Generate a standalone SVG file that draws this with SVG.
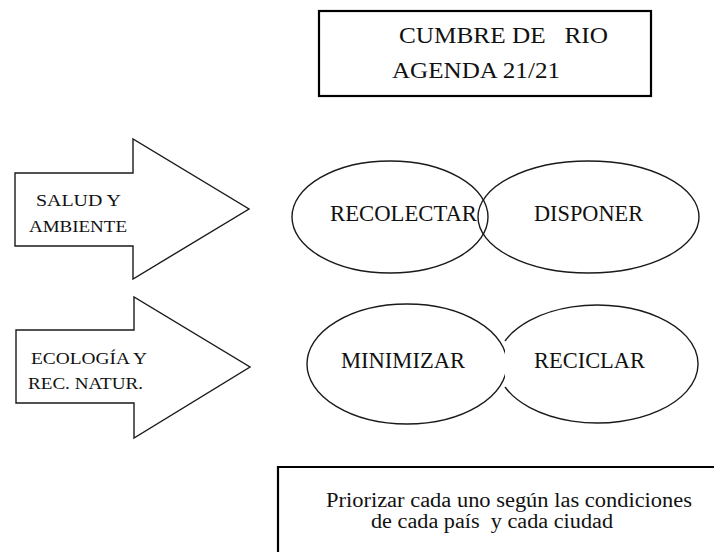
<svg xmlns="http://www.w3.org/2000/svg" width="714" height="552" viewBox="0 0 714 552">
<style>
.box{fill:#fff;stroke:#000;stroke-width:2.2}
.shape{fill:#fff;stroke:#1a1a1a;stroke-width:1.4}
.lbl{fill:#111;font-family:"Liberation Serif","Times New Roman",serif}
.t23{font-size:23px}
.t17{font-size:17px}
.t20{font-size:20px}
</style>
<rect width="714" height="552" fill="#fff"/>
<g id="title">
<rect class="box" x="319" y="11" width="332" height="85"/>
<text class="lbl t23" x="399" y="43" textLength="209" lengthAdjust="spacingAndGlyphs" xml:space="preserve">CUMBRE DE   RIO</text>
<text class="lbl t23" x="392" y="78" textLength="168" lengthAdjust="spacingAndGlyphs">AGENDA 21/21</text>
</g>
<g id="arrow-salud">
<polygon class="shape" points="15,173 133,173 133,139 249,209 133,279 133,246 15,246"/>
<text class="lbl t17" x="36" y="206" textLength="85" lengthAdjust="spacingAndGlyphs">SALUD Y</text>
<text class="lbl t17" x="29" y="232" textLength="98" lengthAdjust="spacingAndGlyphs">AMBIENTE</text>
</g>
<g id="arrow-ecologia">
<polygon class="shape" points="16,330 134,330 134,297 250,367 134,438 134,403 16,403"/>
<text class="lbl t17" x="31" y="364" textLength="116" lengthAdjust="spacingAndGlyphs">ECOLOGÍA Y</text>
<text class="lbl t17" x="28" y="389" textLength="115" lengthAdjust="spacingAndGlyphs">REC. NATUR.</text>
</g>
<g id="recolectar">
<ellipse class="shape" cx="390" cy="217" rx="98" ry="56"/>
<text class="lbl t23" x="330" y="221" textLength="147" lengthAdjust="spacingAndGlyphs">RECOLECTAR</text>
</g>
<g id="disponer">
<ellipse class="shape" cx="588.5" cy="217" rx="110.5" ry="56" fill-opacity="0"/>
<text class="lbl t23" x="534" y="221" textLength="109" lengthAdjust="spacingAndGlyphs">DISPONER</text>
</g>
<g id="minimizar">
<ellipse class="shape" cx="407" cy="364" rx="100" ry="60"/>
<text class="lbl t23" x="341" y="368" textLength="124" lengthAdjust="spacingAndGlyphs">MINIMIZAR</text>
</g>
<g id="reciclar">
<path class="shape" d="M 505 341 A 100.5 59 0 1 1 505 387" fill="none"/>
<text class="lbl t23" x="534" y="368" textLength="111" lengthAdjust="spacingAndGlyphs">RECICLAR</text>
</g>
<g id="note">
<polyline class="box" points="278,560 278,467 720,467" fill="none"/>
<text class="lbl t20" x="326" y="507" textLength="366" lengthAdjust="spacingAndGlyphs">Priorizar cada uno según las condiciones</text>
<text class="lbl t20" x="371" y="528" textLength="242" lengthAdjust="spacingAndGlyphs" xml:space="preserve">de cada país  y cada ciudad</text>
</g>
<g id="connectors"></g>
</svg>
